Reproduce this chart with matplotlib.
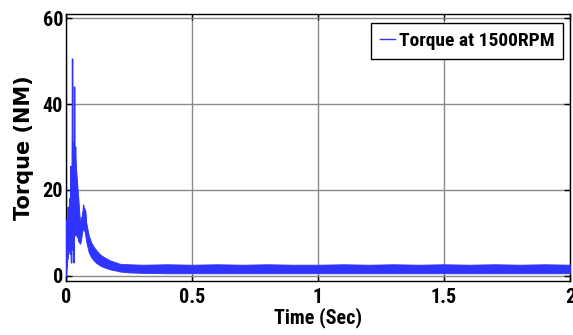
import matplotlib
matplotlib.use("Agg")
import matplotlib.pyplot as plt
from matplotlib import font_manager

# ---- data (torque response, motor at 1500 RPM) ----
# fast start-up oscillation, traced through its peaks and dips
t_spike = [0.000, 0.003, 0.006, 0.009, 0.012, 0.015, 0.018, 0.020, 0.022, 0.024,
           0.026, 0.028, 0.030, 0.032, 0.034, 0.036, 0.038, 0.040, 0.043, 0.046,
           0.049, 0.052, 0.055, 0.058, 0.062, 0.066, 0.070, 0.074, 0.078, 0.082]
tq_spike = [0.0, 13.0, 4.0, 16.0, 6.0, 18.0, 5.0, 25.5, 3.0, 14.0,
            50.5, 6.0, 31.0, 3.0, 44.0, 12.0, 30.0, 10.0, 22.5, 9.0,
            18.5, 8.0, 12.5, 7.5, 13.5, 12.0, 16.5, 12.0, 15.0, 10.0]

# envelope of the dense ripple band (upper / lower edge)
t_env = [0.000, 0.005, 0.010, 0.015, 0.020, 0.025, 0.030, 0.035, 0.040, 0.045,
         0.050, 0.055, 0.060, 0.065, 0.070, 0.075, 0.080, 0.090, 0.100, 0.110,
         0.120, 0.135, 0.150, 0.175, 0.200, 0.215, 0.250, 0.300, 0.400, 0.500,
         0.600, 0.700, 0.800, 0.900, 1.000, 1.100, 1.200, 1.300, 1.400, 1.500,
         1.600, 1.700, 1.800, 1.900, 2.000]
tq_hi = [0.5, 11.0, 13.0, 15.0, 18.0, 20.0, 26.0, 29.0, 25.0, 21.0,
         17.0, 13.0, 13.0, 15.0, 16.0, 15.5, 12.5, 9.5, 7.8, 6.8,
         6.0, 5.0, 4.4, 3.6, 3.1, 2.8, 2.7, 2.6, 2.7, 2.6,
         2.7, 2.6, 2.7, 2.6, 2.6, 2.7, 2.6, 2.7, 2.6, 2.7,
         2.6, 2.7, 2.6, 2.7, 2.6]
tq_lo = [0.0, 3.5, 5.5, 6.0, 6.5, 7.0, 9.0, 9.5, 9.5, 9.0,
         8.0, 7.5, 8.5, 10.5, 11.0, 10.0, 8.0, 5.5, 4.3, 3.6,
         3.0, 2.4, 2.0, 1.5, 1.2, 1.0, 0.8, 0.7, 0.6, 0.6,
         0.6, 0.6, 0.6, 0.6, 0.6, 0.6, 0.6, 0.6, 0.6, 0.6,
         0.6, 0.6, 0.6, 0.6, 0.6]

x_ticks = [0, 0.5, 1, 1.5, 2]
x_ticklabels = ["0", "0.5", "1", "1.5", "2"]
y_ticks = [0, 20, 40, 60]

# ---- fonts: prefer a condensed bold face if one is around ----
installed = {f.name for f in font_manager.fontManager.ttflist}
candidates = ["Liberation Sans Narrow", "Roboto Condensed", "Open Sans Condensed",
              "Noto Sans Condensed", "DejaVu Sans Condensed", "Liberation Sans"]
narrow = next((c for c in candidates if c in installed), "Liberation Sans")
condensed = narrow != "Liberation Sans"
fs = 14.5 if condensed else 12.5

plt.rcParams["font.family"] = [narrow, "DejaVu Sans"]
plt.rcParams["font.weight"] = "bold"

fig = plt.figure(figsize=(5.73, 3.35), dpi=100)
ax = fig.add_axes([66 / 573, 54 / 335, 504 / 573, 267 / 335])

blue = "#2f35ff"
ax.fill_between(t_env, tq_lo, tq_hi, color=blue, linewidth=0.6, edgecolor=blue, zorder=3)
ax.plot(t_spike, tq_spike, color=blue, linewidth=1.0, zorder=4, label="Torque at 1500RPM")

ax.set_xlim(0, 2)
ax.set_ylim(-1.2, 61)
ax.set_xticks(x_ticks)
ax.set_xticklabels(x_ticklabels)
ax.set_yticks(y_ticks)

ax.grid(True, color="#8a8a8a", linewidth=1.0, linestyle="-", zorder=0)
ax.set_axisbelow(True)

ax.tick_params(direction="in", length=4, width=1, top=True, right=True,
               labelsize=fs, pad=5, colors="black")
ax.tick_params(axis="y", pad=2)
for s in ax.spines.values():
    s.set_linewidth(1.0)
    s.set_color("black")

ax.set_xlabel("Time (Sec)", fontsize=fs, fontweight="bold", labelpad=0)
ax.set_ylabel("Torque (NM)", fontsize=15, fontweight="bold",
              family=["DejaVu Sans"], labelpad=6)

leg = ax.legend(loc="upper right", bbox_to_anchor=(0.986, 0.966), borderaxespad=0,
                fancybox=False, framealpha=1, edgecolor="black", fontsize=14,
                handlelength=0.75, handletextpad=0.2, borderpad=0.45)
leg.get_frame().set_linewidth(1.0)

fig.savefig("out.png", dpi=100, facecolor="white")
